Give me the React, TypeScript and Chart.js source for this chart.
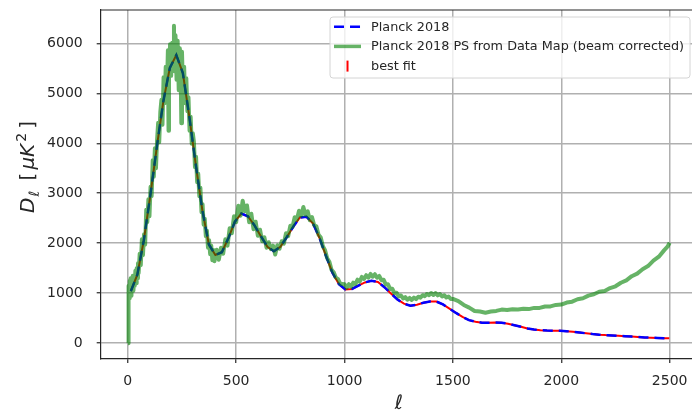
import React, { useEffect, useRef } from "react";
import { Chart, registerables } from "chart.js";

Chart.register(...registerables);

// Planck 2018 theory spectrum (binned nodes), D_ell in muK^2
const planckEll = [
  14, 44, 74, 104, 134, 164, 194, 224, 254, 284, 314, 344, 374, 404, 434, 464, 494, 524, 554, 584,
  614, 644, 674, 704, 734, 764, 794, 824, 854, 884, 914, 944, 974, 1004, 1034, 1064, 1094, 1124,
  1154, 1184, 1214, 1244, 1274, 1304, 1334, 1364, 1394, 1424, 1454, 1484, 1514, 1544, 1574, 1604,
  1634, 1664, 1694, 1724, 1754, 1784, 1814, 1844, 1874, 1904, 1934, 1964, 1994, 2024, 2054, 2084,
  2114, 2144, 2174, 2204, 2234, 2264, 2294, 2324, 2354, 2384, 2414, 2444, 2474, 2498,
];
const planckDl = [
  1040, 1370, 2060, 2960, 3930, 4840, 5510, 5765, 5405, 4530, 3560, 2660, 1975, 1765, 1820, 2100,
  2430, 2595, 2540, 2360, 2140, 1930, 1840, 1930, 2125, 2335, 2515, 2530, 2400, 2110, 1750, 1410,
  1180, 1075, 1085, 1150, 1215, 1250, 1225, 1120, 995, 875, 790, 748, 770, 810, 835, 832, 775, 690,
  605, 525, 460, 428, 410, 410, 415, 410, 390, 360, 330, 295, 272, 258, 252, 249, 246, 240, 228,
  212, 198, 182, 170, 161, 155, 148, 140, 132, 122, 114, 109, 104, 100, 96,
];

// Power spectrum measured from the data map (beam corrected): [ell, D_ell]
const dataMapPS: [number, number][] = [
  [1, 0], [2, 450], [3, 1050], [4, 820], [5, 1150], [7, 900], [9, 1250], [11, 1000], [13, 1300],
  [15, 950], [17, 1200], [20, 1100], [23, 1350], [26, 1050], [29, 1300], [32, 1150], [35, 1450],
  [38, 1200], [41, 1500], [44, 1300], [47, 1600], [50, 1400],
  [55, 1790], [60, 1560], [65, 2080], [70, 1760], [75, 2180], [80, 1970], [85, 2670], [90, 2420],
  [95, 2880], [100, 2540], [105, 3130], [110, 2940], [115, 3660], [120, 3330], [125, 3900],
  [130, 3500], [135, 4060], [140, 4410], [145, 4020], [150, 4620],
  [155, 4870], [160, 4370], [165, 5320], [170, 4800], [175, 5530], [180, 4950], [185, 5860],
  [188, 4250], [190, 5300], [195, 5980], [200, 5350], [205, 6010], [210, 5610], [213, 6350],
  [215, 5440], [220, 6160], [225, 5270], [230, 6050], [235, 5060], [240, 5900], [245, 5070],
  [247, 4400], [250, 5830], [255, 4990], [260, 5530], [265, 4800], [270, 5300], [275, 4640],
  [280, 4920], [285, 4250], [290, 4530], [295, 3990], [300, 4200],
  [305, 4030], [310, 3520], [315, 3730], [320, 3220], [325, 3390], [330, 2940], [335, 3110],
  [340, 2620], [345, 2780], [350, 2370], [355, 2490], [360, 2140], [365, 2250], [370, 1910],
  [375, 2060], [380, 1780], [385, 1950], [390, 1660], [395, 1865], [400, 1640],
  [410, 1870], [420, 1670], [430, 1910], [440, 1790], [450, 2080], [460, 1950], [470, 2300],
  [480, 2200], [490, 2540], [500, 2420], [510, 2750], [520, 2550], [530, 2850], [540, 2640],
  [550, 2755], [560, 2420], [570, 2590], [580, 2280], [590, 2430], [600, 2150], [610, 2270],
  [620, 2040], [630, 2120], [640, 1910], [650, 2020], [660, 1880], [670, 1950], [680, 1775],
  [690, 1960], [700, 1890], [710, 2040], [720, 1990], [730, 2200], [740, 2140], [750, 2350],
  [760, 2330], [770, 2520], [780, 2470], [790, 2650], [800, 2550], [810, 2725], [820, 2565],
  [830, 2640], [840, 2460], [850, 2520], [860, 2360], [870, 2340], [880, 2170], [890, 2120],
  [900, 1940], [910, 1860], [920, 1700], [930, 1630], [940, 1470], [950, 1420], [960, 1310],
  [970, 1280], [980, 1190], [990, 1185],
  [1000, 1180], [1010, 1110], [1020, 1180], [1030, 1130], [1040, 1210], [1050, 1180], [1060, 1270],
  [1070, 1230], [1080, 1325], [1090, 1285], [1100, 1360], [1110, 1310], [1120, 1385], [1130, 1330],
  [1140, 1380], [1150, 1310], [1160, 1345], [1170, 1260], [1180, 1270], [1190, 1175], [1200, 1180],
  [1210, 1085], [1220, 1090], [1230, 1000], [1240, 1010], [1250, 935], [1260, 955], [1270, 895],
  [1280, 920], [1290, 870], [1300, 905], [1310, 865], [1320, 910], [1330, 880], [1340, 930],
  [1350, 910], [1360, 960], [1370, 940], [1380, 985], [1390, 960], [1400, 1003], [1410, 965],
  [1420, 1003], [1430, 957], [1440, 982], [1450, 935], [1460, 960], [1470, 913], [1480, 935],
  [1490, 885],
  [1500, 885], [1525, 842], [1550, 765], [1575, 712], [1600, 645], [1625, 632], [1650, 610],
  [1675, 632], [1700, 645], [1725, 672], [1750, 664], [1775, 680], [1800, 672], [1825, 688],
  [1850, 682], [1875, 706], [1900, 705], [1925, 733], [1950, 735], [1975, 766], [2000, 772],
  [2025, 812], [2050, 830], [2075, 878], [2100, 898], [2125, 952], [2150, 978], [2175, 1028],
  [2200, 1044], [2225, 1102], [2250, 1138], [2275, 1208], [2300, 1256], [2325, 1340], [2350, 1392],
  [2375, 1480], [2400, 1542], [2425, 1650], [2450, 1730], [2475, 1862], [2490, 1930], [2500, 2010],
];

const xTicks = [0, 500, 1000, 1500, 2000, 2500];
const yTicks = [0, 1000, 2000, 3000, 4000, 5000, 6000];
const seriesLabels = ["Planck 2018", "Planck 2018 PS from Data Map (beam corrected)", "best fit"];

const FONT = '"DejaVu Sans", sans-serif';
const TEXT = "#262626";

const framePlugin = {
  id: "frame",
  afterDatasetsDraw(chart: any) {
    const { ctx, chartArea: a } = chart;
    ctx.save();
    ctx.strokeStyle = TEXT;
    ctx.lineWidth = 1.2;
    ctx.beginPath();
    ctx.moveTo(a.left, a.top);
    ctx.lineTo(a.right + 2, a.top);
    ctx.stroke();
    ctx.restore();
  },
};

const legendPlugin = {
  id: "boxLegend",
  afterDraw(chart: any) {
    const { ctx, chartArea: a } = chart;
    const ds = chart.data.datasets;
    ctx.save();
    ctx.font = `12.8px ${FONT}`;
    let textW = 0;
    ds.forEach((d: any) => (textW = Math.max(textW, ctx.measureText(d.label).width)));
    const w = 47 + textW;
    const h = 61;
    const right = 690;
    const left = right - w;
    const top = a.top + 7;
    const r = 3;
    ctx.beginPath();
    ctx.moveTo(left + r, top);
    ctx.lineTo(right - r, top);
    ctx.quadraticCurveTo(right, top, right, top + r);
    ctx.lineTo(right, top + h - r);
    ctx.quadraticCurveTo(right, top + h, right - r, top + h);
    ctx.lineTo(left + r, top + h);
    ctx.quadraticCurveTo(left, top + h, left, top + h - r);
    ctx.lineTo(left, top + r);
    ctx.quadraticCurveTo(left, top, left + r, top);
    ctx.closePath();
    ctx.fillStyle = "rgba(255,255,255,0.8)";
    ctx.fill();
    ctx.strokeStyle = "#d4d4d4";
    ctx.lineWidth = 1;
    ctx.stroke();

    const hx0 = left + 4;
    const hx1 = hx0 + 27;
    ds.forEach((d: any, i: number) => {
      const cy = top + 9.7 + i * 19.7;
      if (d.legendKind === "errorbar") {
        ctx.strokeStyle = "#ff0000";
        ctx.lineWidth = 2;
        ctx.setLineDash([]);
        ctx.beginPath();
        ctx.moveTo((hx0 + hx1) / 2, cy - 5.5);
        ctx.lineTo((hx0 + hx1) / 2, cy + 5.5);
        ctx.stroke();
      } else {
        ctx.strokeStyle = d.borderColor;
        ctx.lineWidth = d.legendWidth || d.borderWidth;
        ctx.lineCap = "butt";
        ctx.setLineDash(d.borderDash || []);
        ctx.beginPath();
        ctx.moveTo(hx0, cy);
        ctx.lineTo(hx1, cy);
        ctx.stroke();
        ctx.setLineDash([]);
      }
      ctx.fillStyle = TEXT;
      ctx.textBaseline = "middle";
      ctx.textAlign = "left";
      ctx.fillText(d.label, hx1 + 10, cy + 0.5);
    });
    ctx.restore();
  },
};

const axisTitlePlugin = {
  id: "axisTitles",
  afterDraw(chart: any) {
    const { ctx } = chart;
    ctx.save();
    ctx.fillStyle = TEXT;
    // x title: italic ell
    ctx.font = `italic 20px ${FONT}`;
    ctx.textAlign = "center";
    ctx.textBaseline = "middle";
    ctx.fillText("ℓ", 399, 404);

    // y title: D_ell [mu K^2]
    const S = 20;
    const s = Math.round(S * 0.7);
    const gaps = [1, 4, 3, 2, 4, 0];
    const parts = [
      { t: "D", f: `italic ${S}px ${FONT}`, dy: 0 },
      { t: "ℓ", f: `italic ${s}px ${FONT}`, dy: S * 0.22 },
      { t: " [", f: `${S}px ${FONT}`, dy: 0 },
      { t: "μK", f: `italic ${S}px ${FONT}`, dy: 0 },
      { t: "2", f: `${s}px ${FONT}`, dy: -S * 0.42 },
      { t: "]", f: `${S}px ${FONT}`, dy: 0 },
    ];
    let total = 0;
    const widths = parts.map((p, i) => {
      ctx.font = p.f;
      const wv = ctx.measureText(p.t).width + gaps[i];
      total += wv;
      return wv;
    });
    ctx.translate(27, 167);
    ctx.rotate(-Math.PI / 2);
    ctx.textAlign = "left";
    ctx.textBaseline = "alphabetic";
    let x = -total / 2;
    parts.forEach((p, i) => {
      ctx.font = p.f;
      ctx.fillText(p.t, x, S * 0.36 + p.dy);
      x += widths[i];
    });
    ctx.restore();
  },
};

export default function App() {
  const ref = useRef<HTMLCanvasElement | null>(null);

  useEffect(() => {
    if (!ref.current) return;
    const planckPoints = planckEll.map((l, i) => ({ x: l, y: planckDl[i] }));
    const mapPoints = dataMapPS.map(([l, d]) => ({ x: l, y: d }));

    const gridCfg = {
      color: "#b0b0b0",
      lineWidth: 1.5,
      drawTicks: true,
      tickLength: 4,
      tickColor: TEXT,
      tickWidth: 1.2,
    };

    const chart = new Chart(ref.current, {
      type: "line",
      data: {
        datasets: [
          {
            label: seriesLabels[0],
            data: planckPoints,
            borderColor: "#0000ff",
            borderWidth: 2.5,
            borderDash: [10, 6],
            borderCapStyle: "butt",
            pointRadius: 0,
            order: 1,
          } as any,
          {
            label: seriesLabels[1],
            data: mapPoints,
            borderColor: "rgba(0,128,0,0.6)",
            borderWidth: 4,
            legendWidth: 3.5,
            borderJoinStyle: "round",
            pointRadius: 0,
            order: 0,
          } as any,
          {
            label: seriesLabels[2],
            data: planckPoints,
            borderColor: "#ff0000",
            borderWidth: 2,
            pointRadius: 0,
            order: 2,
            legendKind: "errorbar",
          } as any,
        ],
      },
      options: {
        responsive: false,
        animation: false,
        devicePixelRatio: 1,
        layout: { padding: { left: 0, right: 0, top: 10, bottom: 0 } },
        plugins: { legend: { display: false }, tooltip: { enabled: false } },
        elements: { line: { tension: 0 }, point: { radius: 0 } },
        scales: {
          x: {
            type: "linear",
            min: -125,
            max: 2603,
            afterBuildTicks: (s: any) => {
              s.ticks = xTicks.map((v) => ({ value: v }));
            },
            afterFit: (s: any) => {
              s.height = 55;
              s.paddingLeft = 0;
              s.paddingRight = 0;
            },
            grid: gridCfg,
            border: { display: true, color: TEXT, width: 1.2 },
            ticks: {
              font: { family: FONT, size: 14 },
              color: TEXT,
              padding: 10,
              maxRotation: 0,
              autoSkip: false,
              callback: (v: any) => String(v),
            },
          },
          y: {
            type: "linear",
            min: -317,
            max: 6667,
            afterBuildTicks: (s: any) => {
              s.ticks = yTicks.map((v) => ({ value: v }));
            },
            afterFit: (s: any) => {
              s.width = 100.7;
              s.paddingTop = 0;
              s.paddingBottom = 0;
            },
            grid: gridCfg,
            border: { display: true, color: TEXT, width: 1.2 },
            ticks: {
              font: { family: FONT, size: 14 },
              color: TEXT,
              padding: 14,
              autoSkip: false,
              callback: (v: any) => String(v),
            },
          },
        },
      },
      plugins: [framePlugin, legendPlugin, axisTitlePlugin],
    });
    return () => chart.destroy();
  }, []);

  return (
    <div
      style={{
        position: "fixed",
        left: 0,
        top: 0,
        width: 692,
        height: 414,
        overflow: "hidden",
        background: "#ffffff",
      }}
    >
      <canvas ref={ref} width={692} height={414} style={{ display: "block" }} />
    </div>
  );
}
